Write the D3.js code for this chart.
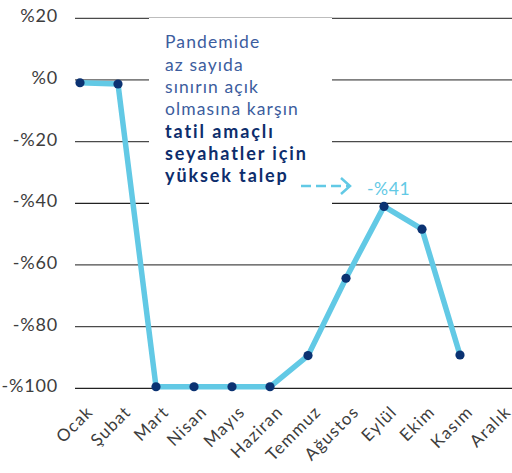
<!DOCTYPE html>
<html><head><meta charset="utf-8">
<script src="https://cdn.jsdelivr.net/npm/d3@7"></script>
<style>
body{margin:0;background:#fff;}
svg{display:block;font-family:Lato,"Open Sans",sans-serif;}
</style></head>
<body><svg id="c" width="512" height="473"></svg>
<script>
const months = ["Ocak","Şubat","Mart","Nisan","Mayıs","Haziran","Temmuz","Ağustos","Eylül","Ekim","Kasım","Aralık"];
const values = [-0.9,-1.3,-99.5,-99.5,-99.5,-99.5,-89.4,-64.3,-41,-48.4,-89.2,null];
const yTicks = [20,0,-20,-40,-60,-80,-100];
const yTickLabels = ["%20","%0","-%20","-%40","-%60","-%80","-%100"];
const noteRegular = ["Pandemide","az sayıda","sınırın açık","olmasına karşın"];
const noteBold = ["tatil amaçlı","seyahatler için","yüksek talep"];
const calloutLabel = "-%41";

const svg = d3.select("#c");
const x = d3.scalePoint().domain(months).range([80,498]);
const y = d3.scaleLinear().domain([-100,20]).range([388.3,18.3]);

// gridlines
const grid = svg.append("g");
grid.selectAll("line").data(yTicks).join("line")
  .attr("x1",75).attr("x2",512)
  .attr("y1",d=>y(d)).attr("y2",d=>y(d))
  .attr("stroke",d=>d===0?"#808080":(d===-40||d===-100?"#222":"#4a4a4a"))
  .attr("stroke-width",d=>d===0?1.8:1.3);

// y labels
svg.append("g").selectAll("text").data(yTicks).join("text")
  .attr("x",58).attr("y",d=>y(d)-2.5)
  .attr("dy","0.36em")
  .attr("text-anchor","end")
  .attr("fill","#3d3d3d")
  .attr("font-size",18).attr("letter-spacing","0.8px")
  .text((d,i)=>yTickLabels[i]);

// x labels
svg.append("g").selectAll("text").data(months).join("text")
  .attr("transform",d=>`translate(${x(d)+14},413) rotate(-45)`)
  .attr("text-anchor","end")
  .attr("fill","#3d3d3d")
  .attr("font-size",17).attr("letter-spacing","1.2px")
  .text(d=>d);

// annotation box
svg.append("rect").attr("x",149).attr("y",17.5).attr("width",183).attr("height",190).attr("fill","#fff");
svg.append("line").attr("x1",149).attr("x2",332).attr("y1",17.5).attr("y2",17.5).attr("stroke","#bdbdbd").attr("stroke-width",1.2);

const note = svg.append("g");
noteRegular.concat(noteBold).forEach((t,i)=>{
  const bold = i>=noteRegular.length;
  note.append("text").attr("x",165).attr("y",48.3+i*22.3)
    .attr("fill",bold?"#0d2d6c":"#3c5d9e")
    .attr("font-weight",bold?700:400)
    .attr("font-size",bold?18:17.5)
    .attr("letter-spacing",bold?"1.9px":"1.1px")
    .text(t);
});

// line + dots
const pts = months.map((m,i)=>({m,v:values[i]})).filter(d=>d.v!==null);
const line = d3.line().x(d=>x(d.m)).y(d=>y(d.v));
svg.append("path").datum(pts).attr("d",line)
  .attr("fill","none").attr("stroke","#62c9e5").attr("stroke-width",5.5)
  .attr("stroke-linejoin","round");
svg.append("g").selectAll("circle").data(pts).join("circle")
  .attr("cx",d=>x(d.m)).attr("cy",d=>y(d.v)).attr("r",4.6).attr("fill","#0b3272");

// callout arrow
const ay = 186;
svg.append("line").attr("x1",301).attr("x2",349).attr("y1",ay).attr("y2",ay)
  .attr("stroke","#62c9e5").attr("stroke-width",2.5).attr("stroke-dasharray","10,5");
svg.append("path").attr("d",`M341,${ay-8}L350,${ay}L341,${ay+8}`)
  .attr("fill","none").attr("stroke","#62c9e5").attr("stroke-width",2.5);
svg.append("text").attr("x",367).attr("y",195).attr("font-size",17.5).attr("letter-spacing","0.6px").attr("fill","#62c9e5").text(calloutLabel);
</script></body></html>
